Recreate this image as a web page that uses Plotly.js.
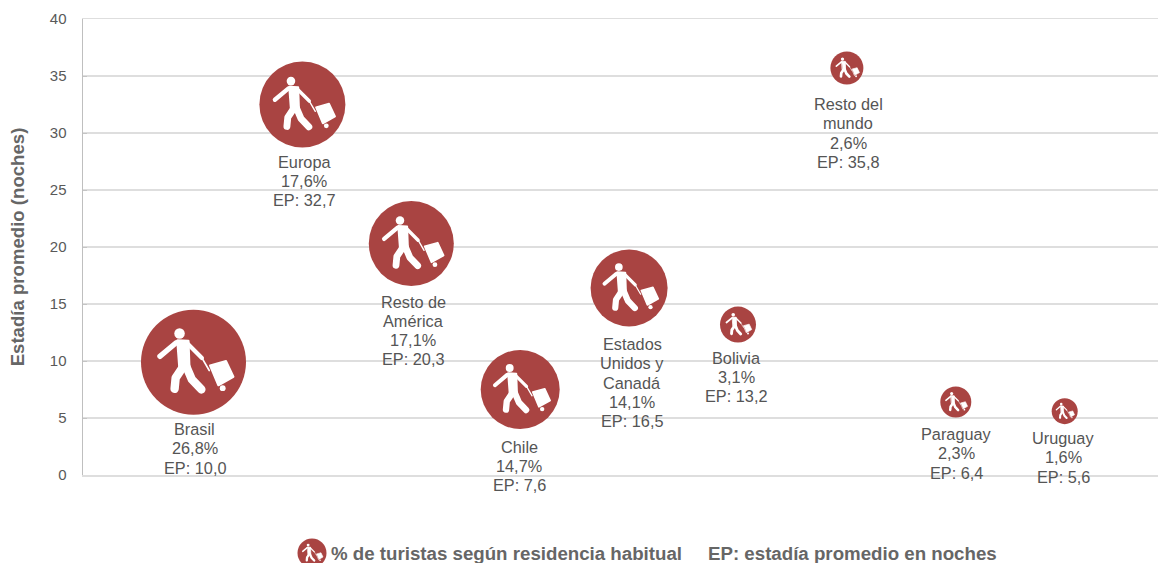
<!DOCTYPE html>
<html><head><meta charset="utf-8">
<script src="https://cdn.plot.ly/plotly-3.0.1.min.js"></script>
<style>html,body{margin:0;padding:0;background:#fff}</style></head>
<body><div id="chart" style="width:1158px;height:563px"></div>
<script>
const categoryOrder = [1,2,3,4,5,6,7,8,9];
const labelNames = [["Brasil"],["Europa"],["Resto de","América"],["Chile"],["Estados","Unidos y","Canadá"],["Bolivia"],["Resto del","mundo"],["Paraguay"],["Uruguay"]];
const shareText = ["26,8%","17,6%","17,1%","14,7%","14,1%","3,1%","2,6%","2,3%","1,6%"];
const stayText = ["10,0","32,7","20,3","7,6","16,5","13,2","35,8","6,4","5,6"];
const stayValues = [9.9,32.5,20.3,7.5,16.4,13.2,35.7,6.4,5.6];
const bubbleDiameters = [105,86,85,79,77,36,33,31,26];
const yTicks = [0,5,10,15,20,25,30,35,40];

const RED = "#a94442";
const FONT = "Liberation Sans, Arial, sans-serif";
const figure = encodeURIComponent('<svg xmlns="http://www.w3.org/2000/svg" viewBox="0 0 100 100"><g fill="#fff" stroke="#fff" stroke-linecap="round" stroke-linejoin="round"><circle cx="36.7" cy="22.8" r="5" stroke="none"/><path d="M33.5 31.5 L18 44.5" stroke-width="5" fill="none"/><path d="M34.8 29.5 L45 30 L45.9 55 L36.7 55 Z" stroke-width="2.5"/><path d="M40.5 53.8 L33 65 L32 75.5" stroke-width="8" fill="none"/><path d="M43 53.8 L48.4 66.5 L57.5 76" stroke-width="8" fill="none"/><path d="M44 32 L58 46" stroke-width="4" fill="none"/><path d="M58 46 L65 58" stroke-width="1.6" fill="none"/><path d="M65.8 53.2 L81 49 L88 63.9 L73.7 72 Z" stroke-width="2"/><circle cx="77.8" cy="74.8" r="2.8" stroke="none"/></g></svg>');
const figureSrc = "data:image/svg+xml;charset=utf-8," + figure;

const W = 1158, H = 563, L = 83, R = 1158, T = 19, B = 475;
const pxPerY = (B - T) / 40, pxPerX = 108.9, xZero = 84.6;
const xRange = [(L - xZero) / pxPerX, (R - xZero) / pxPerX];

// label placement relative to each bubble centre, in pixels
const labelDrop = [67, 57, 58, 57, 56, 33, 36, 32, 27];
const labelDx = [1, 2, 2, -1, 3, -2, 1.5, 0.5, -1.5];
const LINE = 19.3;

const images = categoryOrder.map((c, i) => ({
  source: figureSrc, xref: "x", yref: "y", x: c, y: stayValues[i],
  sizex: bubbleDiameters[i] / pxPerX, sizey: bubbleDiameters[i] / pxPerY,
  xanchor: "center", yanchor: "middle", sizing: "stretch", layer: "above"
}));

const annotations = [];
categoryOrder.forEach((c, i) => {
  const lines = labelNames[i].concat([shareText[i], "EP: " + stayText[i]]);
  lines.forEach((t, j) => annotations.push({
    xref: "x", yref: "y", x: c, y: stayValues[i], text: t, showarrow: false,
    yanchor: "middle", xanchor: "center", align: "center", xshift: labelDx[i],
    yshift: -(labelDrop[i] + j * LINE),
    font: {family: FONT, size: 16.3, color: "#555555"}
  }));
});
const footY = -(553 - B) / (B - T);
const footFont = {family: FONT, size: 18.7, color: "#666666"};
annotations.push(
  {xref: "paper", yref: "paper", x: (329 - L) / (R - L), y: footY, xanchor: "left", yanchor: "middle", showarrow: false,
   text: "<b>% de turistas según residencia habitual</b>", font: footFont},
  {xref: "paper", yref: "paper", x: (706 - L) / (R - L), y: footY, xanchor: "left", yanchor: "middle", showarrow: false,
   text: "<b>EP: estadía promedio en noches</b>", font: footFont}
);
const keyX = (312 - L) / (R - L), keyD = 29;
images.push({
  source: figureSrc, xref: "paper", yref: "paper", x: keyX, y: footY,
  sizex: keyD / (R - L), sizey: keyD / (B - T), xanchor: "center", yanchor: "middle", sizing: "stretch", layer: "above"
});

const traces = [{
  type: "scatter", mode: "markers", x: categoryOrder, y: stayValues, hoverinfo: "skip",
  marker: {symbol: "circle", size: bubbleDiameters, sizemode: "diameter", color: RED, opacity: 1, line: {width: 0}}
}];

const layout = {
  width: W, height: H, showlegend: false, paper_bgcolor: "#fff", plot_bgcolor: "#fff",
  margin: {l: L, r: W - R, t: T, b: H - B, pad: 0},
  xaxis: {range: xRange, showgrid: false, zeroline: false, showticklabels: false, ticks: "",
    showline: true, mirror: true, linecolor: "#dedede", linewidth: 1.5, fixedrange: true},
  yaxis: {range: [0, 40], tickmode: "array", tickvals: yTicks, ticktext: yTicks.map(String),
    showgrid: true, gridcolor: "#dedede", gridwidth: 1.5, zeroline: false, showline: true, linecolor: "#bfbfbf", linewidth: 1.5,
    ticks: "inside", ticklen: 4, tickcolor: "#c4c4c4", ticklabelstandoff: 12,
    tickfont: {family: FONT, size: 15, color: "#595959"},
    title: {text: "<b>Estadía promedio (noches)</b>", standoff: 20, font: {family: FONT, size: 18.6, color: "#666666"}}},
  images: images, annotations: annotations,
  shapes: [{type: "circle", xref: "paper", yref: "paper", x0: keyX - keyD / 2 / (R - L), x1: keyX + keyD / 2 / (R - L),
    y0: footY - keyD / 2 / (B - T), y1: footY + keyD / 2 / (B - T), fillcolor: RED, line: {width: 0}, layer: "below"}]
};
Plotly.newPlot("chart", traces, layout, {displayModeBar: false, staticPlot: true});
</script></body></html>
